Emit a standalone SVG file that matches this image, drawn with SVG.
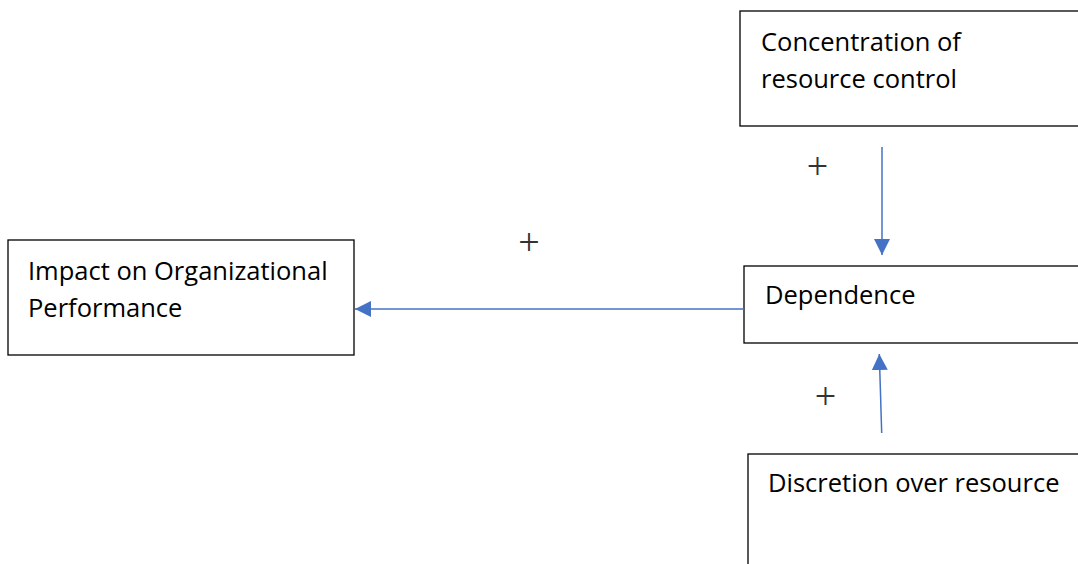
<svg xmlns="http://www.w3.org/2000/svg" width="1078" height="564" viewBox="0 0 1078 564">
<style>
.box{fill:#fff;stroke:#000;stroke-width:1.3}
.t{font-family:"Open Sans","Liberation Sans",sans-serif;font-size:25.5px;fill:#000}
.plus{font-family:"Liberation Serif",serif;font-size:38px;fill:#333;text-anchor:middle}
.conn{stroke:#4472C4;stroke-width:1.5;fill:none;marker-end:url(#ah)}
</style>
<defs>
<marker id="ah" markerUnits="userSpaceOnUse" markerWidth="16" markerHeight="16" viewBox="0 0 16 16" refX="16" refY="8" orient="auto">
<path d="M0,0 L16,8 L0,16 z" fill="#4472C4"/>
</marker>
</defs>
<rect width="1078" height="564" fill="#fff"/>
<g id="concentration">
<rect class="box" x="740" y="11" width="400" height="115"/>
<text class="t" x="761" y="51">Concentration of</text>
<text class="t" x="761" y="88">resource control</text>
</g>
<g id="dependence">
<rect class="box" x="744" y="266" width="400" height="77"/>
<text class="t" x="765" y="304">Dependence</text>
</g>
<g id="discretion">
<rect class="box" x="748" y="454" width="400" height="150"/>
<text class="t" x="768" y="492">Discretion over resource</text>
</g>
<g id="impact">
<rect class="box" x="8" y="240" width="346" height="115"/>
<text class="t" x="28" y="280">Impact on Organizational</text>
<text class="t" x="28" y="317">Performance</text>
</g>
<g id="connectors">
<line class="conn" x1="882" y1="147" x2="882" y2="255"/>
<line class="conn" x1="744" y1="309" x2="355" y2="309"/>
<line class="conn" x1="881.7" y1="433" x2="879.3" y2="354"/>
</g>
<g id="labels">
<text class="plus" x="529" y="255">+</text>
<text class="plus" x="817.5" y="179">+</text>
<text class="plus" x="825.5" y="409">+</text>
</g>
</svg>
